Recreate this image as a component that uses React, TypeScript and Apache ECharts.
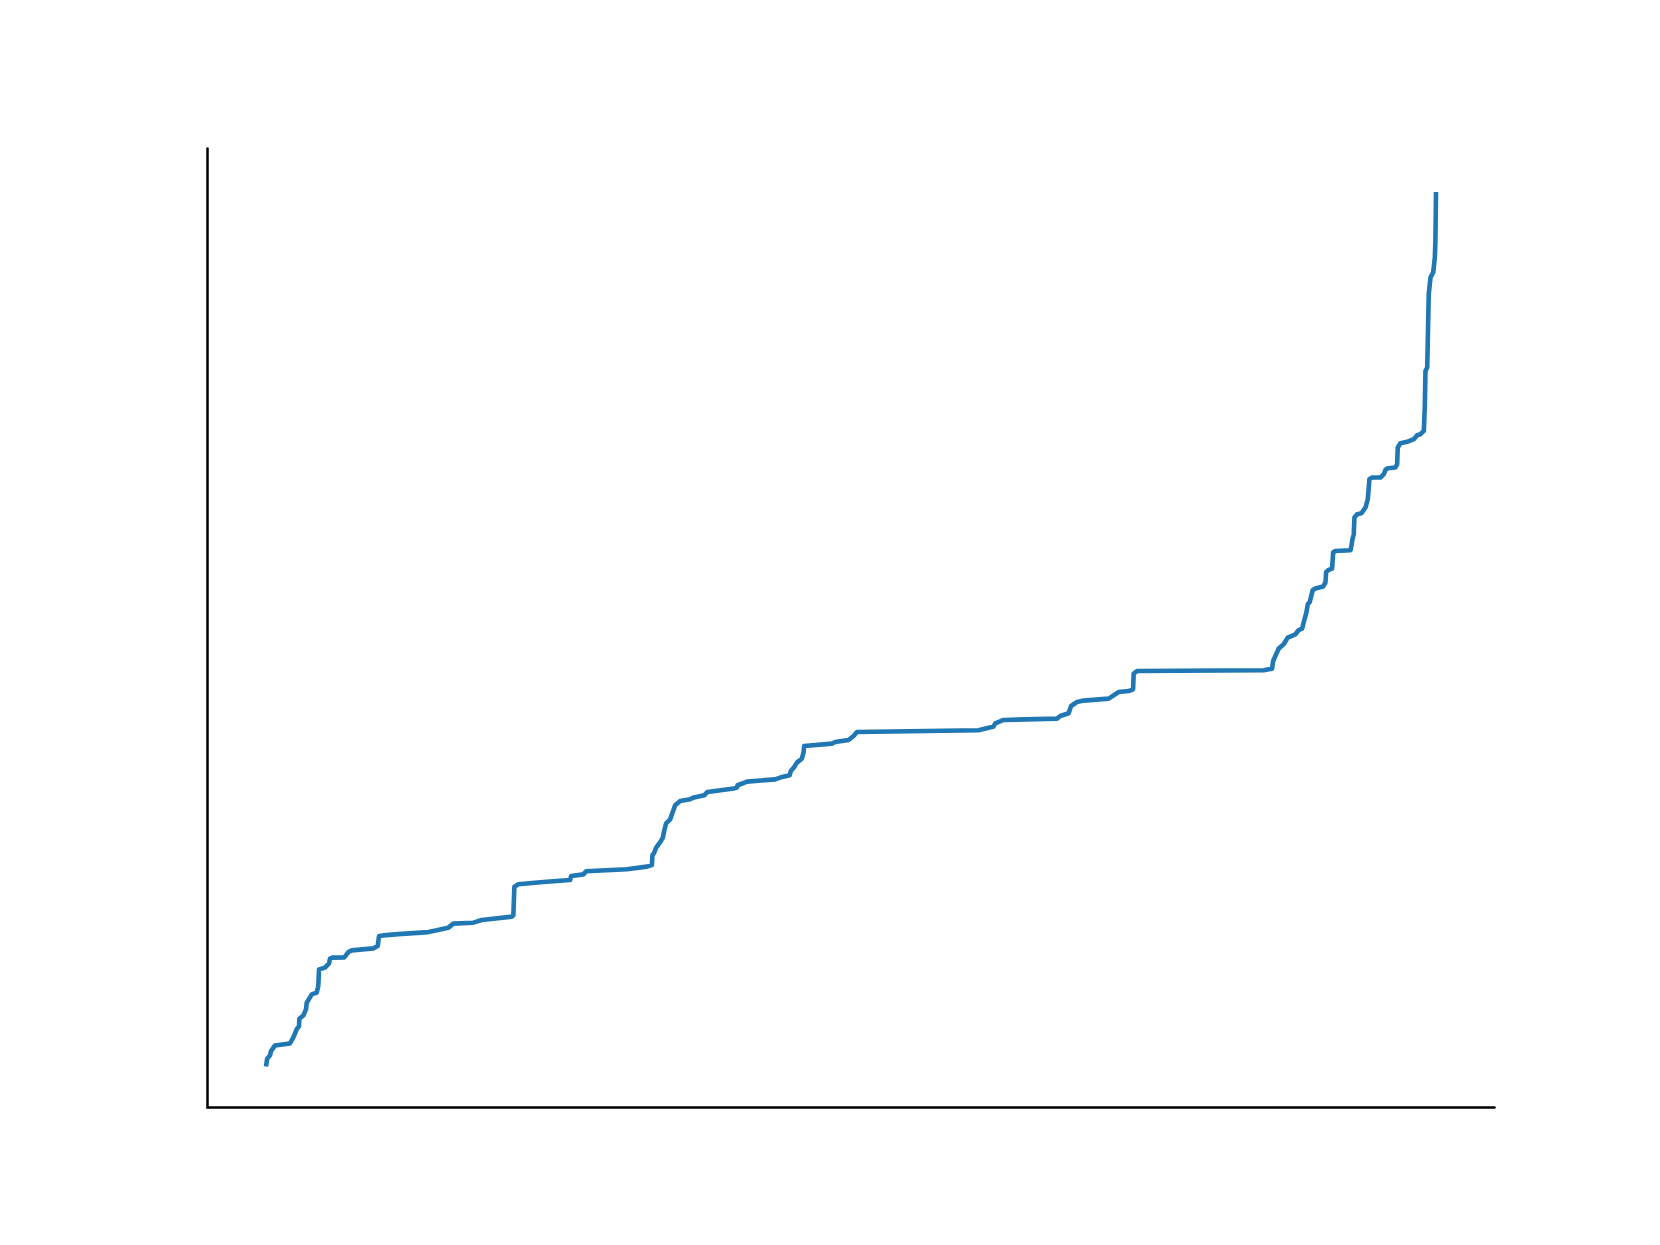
import React, { useEffect, useRef } from "react";
import * as echarts from "echarts";

// Percentile position (0-100) of each point along the sorted curve
const pct: number[] = [
  0, 0.1, 0.34, 0.43, 0.77, 2.05, 2.33, 2.62, 2.82, 2.85,
  3.19, 3.42, 3.48, 3.91, 4.33, 4.47, 4.53, 5.04, 5.39, 5.47,
  5.67, 6.69, 7.04, 7.33, 9.17, 9.55, 9.66, 10.03, 11.31, 13.88,
  14.6, 15.59, 16.01, 17.72, 18.44, 21.01, 21.14, 21.23, 21.57, 23.71,
  25.99, 26.08, 27.13, 27.36, 30.84, 32.55, 32.98, 33.03, 33.18, 33.35,
  33.75, 33.92, 34.03, 34.2, 34.54, 34.97, 35.4, 36.25, 36.49, 37.45,
  37.73, 38.39, 39.96, 40.25, 40.3, 40.76, 41.1, 43.52, 43.95, 44.75,
  44.86, 45.15, 45.38, 45.8, 45.94, 46.0, 48.37, 48.65, 49.79, 50.22,
  50.51, 60.9, 62.19, 62.33, 63.04, 67.61, 67.89, 68.6, 68.81, 69.32,
  69.88, 72.02, 72.45, 72.88, 73.73, 74.11, 74.16, 74.45, 85.27, 85.99,
  86.08, 86.27, 86.56, 86.98, 87.33, 87.98, 88.27, 88.56, 88.7, 88.92,
  89.04, 89.21, 89.46, 89.69, 90.35, 90.55, 90.61, 90.83, 91.12, 91.21,
  91.4, 92.69, 92.77, 92.86, 92.97, 93.03, 93.26, 93.63, 93.97, 94.17,
  94.31, 94.54, 95.25, 95.54, 95.68, 95.88, 96.53, 96.68, 96.73, 96.96,
  97.53, 98.1, 98.39, 98.67, 98.96, 99.02, 99.04, 99.1, 99.25, 99.38,
  99.53, 99.76, 99.9, 99.95, 100,
];

// Sorted values at each position
const vals: number[] = [
  -0.3, 0.6, 0.98, 1.47, 2.12, 2.35, 3.01, 3.96, 4.34, 5.19,
  5.56, 6.25, 7.02, 7.97, 8.17, 8.93, 10.84, 11.04, 11.53, 12.07,
  12.19, 12.22, 12.83, 13.02, 13.25, 13.52, 14.66, 14.74, 14.89, 15.12,
  15.32, 15.63, 16.09, 16.2, 16.5, 16.89, 17.04, 20.33, 20.6, 20.86,
  21.09, 21.55, 21.74, 22.09, 22.32, 22.63, 22.81, 23.92, 24.23, 24.81,
  25.56, 25.95, 26.71, 27.6, 28.05, 29.66, 30.15, 30.35, 30.54, 30.81,
  31.19, 31.3, 31.58, 31.69, 31.96, 32.19, 32.38, 32.64, 32.84, 33.1,
  33.6, 34.06, 34.56, 35.02, 35.71, 36.46, 36.74, 36.92, 37.15, 37.61,
  38.07, 38.27, 38.69, 39.07, 39.45, 39.61, 39.91, 40.22, 41.05, 41.51,
  41.67, 41.9, 42.28, 42.66, 42.77, 42.97, 44.77, 45.07, 45.15, 45.34,
  46.22, 46.79, 47.64, 48.13, 48.9, 49.28, 49.77, 49.94, 50.69, 51.77,
  52.72, 52.99, 54.33, 54.53, 54.76, 55.21, 56.43, 56.66, 56.82, 58.66,
  58.84, 58.92, 59.41, 60.18, 60.76, 62.67, 63.05, 63.16, 63.82, 64.77,
  67.07, 67.26, 67.26, 67.64, 68.13, 68.33, 68.41, 68.79, 70.7, 71.2,
  71.35, 71.66, 72.11, 72.23, 72.61, 74.72, 75.29, 79.49, 79.88, 88.29,
  90.21, 90.78, 92.5, 94.41, 100,
];

export default function App() {
  const ref = useRef<HTMLDivElement>(null);

  useEffect(() => {
    if (!ref.current) return;
    const chart = echarts.init(ref.current, undefined, { renderer: "svg" });
    const data = pct.map((p, i) => [p, vals[i]]);
    chart.setOption({
      animation: false,
      backgroundColor: "#ffffff",
      grid: { left: 207.5, right: 165.5, top: 148.5, bottom: 137.5 },
      xAxis: {
        type: "value",
        min: -5,
        max: 105,
        axisLine: { show: true, onZero: false, lineStyle: { color: "#000000", width: 2.5 } },
        axisTick: { show: false },
        axisLabel: { show: false },
        splitLine: { show: false },
      },
      yAxis: {
        type: "value",
        min: -5,
        max: 105,
        axisLine: { show: true, onZero: false, lineStyle: { color: "#000000", width: 2.5 } },
        axisTick: { show: false },
        axisLabel: { show: false },
        splitLine: { show: false },
      },
      series: [
        {
          type: "line",
          data,
          showSymbol: false,
          symbol: "none",
          lineStyle: { color: "#1f77b4", width: 4.6, cap: "butt", join: "round" },
        },
      ],
    });
    return () => chart.dispose();
  }, []);

  return (
    <div
      ref={ref}
      style={{ position: "fixed", left: 0, top: 0, width: 1660, height: 1245, background: "#ffffff" }}
    />
  );
}
